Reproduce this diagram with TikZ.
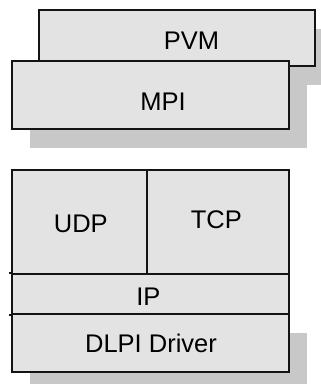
\documentclass[tikz,border=0pt]{standalone}
\usepackage{fontspec}
\setmainfont{Liberation Sans}
\usetikzlibrary{shadows}
\definecolor{boxfill}{HTML}{E3E3E3}
\definecolor{shadowgray}{HTML}{C8C8C8}
\definecolor{edge}{HTML}{141414}
\begin{document}
\begin{tikzpicture}[x=1pt,y=-1pt,
  layer/.style={draw=edge,line width=1.8pt,fill=boxfill,rectangle,inner sep=0pt},
  shadowed/.style={drop shadow={shadow xshift=18pt,shadow yshift=-19pt,opacity=1,fill=shadowgray}},
  lbl/.style={inner sep=0pt,font=\fontsize{25.5}{30}\selectfont}]
  \useasboundingbox (0,0) rectangle (321,384);
  % message-passing libraries
  \node[layer,shadowed,minimum width=276pt,minimum height=56pt] (pvm) at (177,38) {};
  \node[layer,shadowed,minimum width=277pt,minimum height=68pt] (mpi) at (150.5,95) {};
  \node[lbl] (pvmtext) at (191.5,41) {PVM};
  \node[lbl] (mpitext) at (163,101.7) {MPI};
  % protocol stack
  \node[layer,shadowed,minimum width=277pt,minimum height=58pt] (dlpi) at (150.5,343) {};
  \node[layer,minimum width=277pt,minimum height=40pt] (ip) at (150.5,294) {};
  \node[layer,minimum width=135pt,minimum height=104pt] (udp) at (79.5,222) {};
  \node[layer,minimum width=142pt,minimum height=104pt] (tcp) at (218,222) {};
  \draw[edge,line width=1.8pt] (ip.north west) -- ++(-2,0);
  \draw[edge,line width=1.8pt] (ip.south west) -- ++(-2,0);
  \node[lbl] (udptext) at (80.8,224.2) {UDP};
  \node[lbl] (tcptext) at (216.3,220.2) {TCP};
  \node[lbl] (iptext) at (148.4,296.8) {IP};
  \node[lbl] (dlpitext) at (151,343.7) {DLPI Driver};
\end{tikzpicture}
\end{document}
